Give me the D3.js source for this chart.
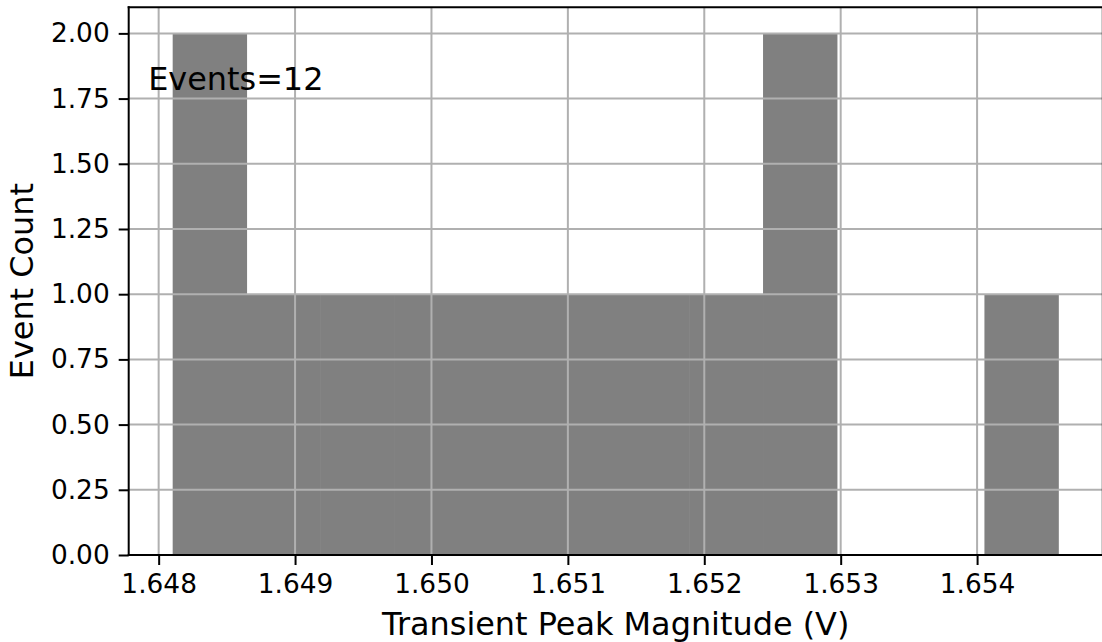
<!DOCTYPE html>
<html>
<head>
<meta charset="utf-8">
<script src="https://cdn.jsdelivr.net/npm/d3@7"></script>
<style>
  html, body { margin: 0; padding: 0; background: #fff; }
  svg { display: block; font-family: "DejaVu Sans", sans-serif; }
</style>
</head>
<body>
<svg id="chart" width="1102" height="642"></svg>
<script>
// Histogram of transient peak magnitudes (12 bins)
const binEdges = [1.648105, 1.648646, 1.649187, 1.649728, 1.650269, 1.650810,
                  1.651351, 1.651892, 1.652433, 1.652974, 1.653515, 1.654056, 1.654597];
const counts = [2, 1, 1, 1, 1, 1, 1, 1, 2, 0, 0, 1];
const xTicks = [1.648, 1.649, 1.650, 1.651, 1.652, 1.653, 1.654];
const yTicks = [0, 0.25, 0.5, 0.75, 1.0, 1.25, 1.5, 1.75, 2.0];
const totalEvents = d3.sum(counts);

const svg = d3.select("#chart");
const plot = { left: 128.7, right: 1102.8, top: 7.3, bottom: 555 };

const lo = binEdges[0], hi = binEdges[binEdges.length - 1];
const pad = (hi - lo) * 0.05;
const x = d3.scaleLinear().domain([lo - pad, hi + pad]).range([plot.left, plot.right]);
const yMax = d3.max(counts) * 1.05;
const y = d3.scaleLinear().domain([0, yMax]).range([plot.bottom, plot.top]);

const bins = counts.map((c, i) => ({ x0: binEdges[i], x1: binEdges[i + 1], n: c }));

// bars (a hair of overlap hides seams between neighbouring bins)
svg.append("g").selectAll("rect").data(bins.filter(d => d.n > 0)).join("rect")
  .attr("x", d => x(d.x0) - 0.3)
  .attr("width", d => x(d.x1) - x(d.x0) + 0.6)
  .attr("y", d => y(d.n))
  .attr("height", d => y(0) - y(d.n))
  .attr("fill", "#808080");

// grid on top of bars
const grid = svg.append("g").attr("stroke", "#b0b0b0").attr("stroke-width", 2);
grid.selectAll(".gx").data(xTicks).join("line")
  .attr("x1", d => x(d)).attr("x2", d => x(d))
  .attr("y1", plot.top).attr("y2", plot.bottom);
grid.selectAll(".gy").data(yTicks).join("line")
  .attr("x1", plot.left).attr("x2", plot.right)
  .attr("y1", d => y(d)).attr("y2", d => y(d));

// axes
const xAxis = d3.axisBottom(x).tickValues(xTicks).tickFormat(d3.format(".3f"))
  .tickSize(10).tickPadding(9).tickSizeOuter(0);
const yAxis = d3.axisLeft(y).tickValues(yTicks).tickFormat(d3.format(".2f"))
  .tickSize(10).tickPadding(9).tickSizeOuter(0);

const gx = svg.append("g").attr("transform", `translate(0,${plot.bottom})`).call(xAxis);
const gy = svg.append("g").attr("transform", `translate(${plot.left},0)`).call(yAxis);
[gx, gy].forEach(g => {
  g.select(".domain").remove();
  g.selectAll(".tick line").attr("stroke", "#000").attr("stroke-width", 2);
  g.selectAll(".tick text").attr("fill", "#000")
    .style("font-family", "'DejaVu Sans', sans-serif").style("font-size", "26.4px");
});

// spines
const spines = svg.append("g").attr("stroke", "#000").attr("stroke-width", 2).attr("fill", "none");
spines.append("line").attr("x1", plot.left).attr("x2", plot.left).attr("y1", plot.top - 1).attr("y2", plot.bottom + 1);
spines.append("line").attr("x1", plot.left - 1).attr("x2", plot.right).attr("y1", plot.bottom).attr("y2", plot.bottom);
spines.append("line").attr("x1", plot.left - 1).attr("x2", plot.right).attr("y1", plot.top).attr("y2", plot.top);
spines.append("line").attr("x1", plot.right).attr("x2", plot.right).attr("y1", plot.top).attr("y2", plot.bottom);

// axis labels
svg.append("text")
  .attr("x", (plot.left + plot.right) / 2).attr("y", 635)
  .attr("text-anchor", "middle").style("font-size", "31.9px").attr("fill", "#000")
  .text("Transient Peak Magnitude (V)");
svg.append("text")
  .attr("transform", `translate(33,${(plot.top + plot.bottom) / 2}) rotate(-90)`)
  .attr("text-anchor", "middle").style("font-size", "31.9px").attr("fill", "#000")
  .text("Event Count");

// annotation
svg.append("text")
  .attr("x", plot.left + 0.02 * (plot.right - plot.left)).attr("y", 90)
  .style("font-size", "31.9px").attr("fill", "#000")
  .text(`Events=${totalEvents}`);
</script>
</body>
</html>
